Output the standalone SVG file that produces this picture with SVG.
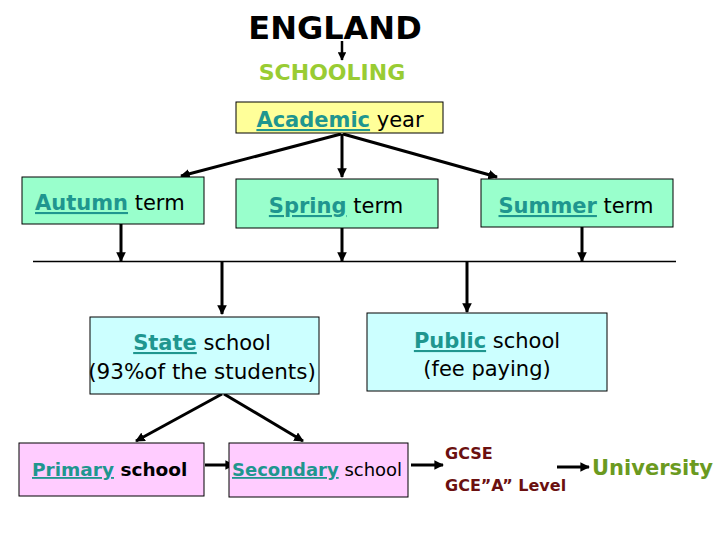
<svg xmlns="http://www.w3.org/2000/svg" width="720" height="540" viewBox="0 0 720 540">
<style>
text{font-family:"DejaVu Sans","Liberation Sans",sans-serif;}
.box{stroke:#000;stroke-width:1}
.yel{fill:#ffff99}
.mint{fill:#99ffcc}
.cyan{fill:#ccffff}
.pink{fill:#ffccff}
.lk{fill:#1f968f;font-weight:bold;text-decoration:underline}
.n{fill:#000}
.b{font-weight:bold}
.ar{stroke:#000;stroke-width:3;fill:none;marker-end:url(#ah)}
.ar2{stroke:#000;stroke-width:2.5;fill:none;marker-end:url(#ah2)}
.gce{fill:#6b1010;font-weight:bold;font-size:16px}
</style>
<defs>
<marker id="ah" viewBox="0 0 10 10" refX="9" refY="5" markerWidth="3.2" markerHeight="3.2" orient="auto" markerUnits="strokeWidth">
<path d="M0,0 L10,5 L0,10 z" fill="#000"/>
</marker>
<marker id="ah2" viewBox="0 0 10 10" refX="9" refY="5" markerWidth="3.4" markerHeight="3.4" orient="auto" markerUnits="strokeWidth">
<path d="M0,0 L10,5 L0,10 z" fill="#000"/>
</marker>
</defs>
<rect width="720" height="540" fill="#fff"/>

<g id="connectors">
<line class="ar2" x1="342" y1="41" x2="342" y2="60"/>
<line class="ar" x1="341" y1="134" x2="181" y2="176"/>
<line class="ar" x1="342" y1="134" x2="342" y2="177"/>
<line class="ar" x1="343" y1="134" x2="497" y2="177"/>
<line class="ar" x1="121" y1="224" x2="121" y2="261"/>
<line class="ar" x1="342" y1="228" x2="342" y2="261"/>
<line class="ar" x1="582" y1="227" x2="582" y2="261"/>
<line x1="33" y1="261.5" x2="676" y2="261.5" stroke="#000" stroke-width="1.5"/>
<line class="ar" x1="222" y1="262" x2="222" y2="314"/>
<line class="ar" x1="467" y1="262" x2="467" y2="312"/>
<line class="ar" x1="222" y1="394" x2="136" y2="441"/>
<line class="ar" x1="224" y1="394" x2="303" y2="441"/>
<line class="ar" x1="205" y1="465" x2="234" y2="465"/>
<line class="ar" x1="411" y1="465" x2="443" y2="465"/>
<line class="ar" x1="557" y1="467" x2="589" y2="467"/>
</g>

<g id="england">
<text x="335" y="39" font-size="32" font-weight="bold" text-anchor="middle" fill="#000">ENGLAND</text>
</g>
<g id="schooling">
<text x="332" y="80" font-size="22" font-weight="bold" text-anchor="middle" fill="#99cc33">SCHOOLING</text>
</g>
<g id="academic">
<rect class="box yel" x="236" y="102" width="207" height="31"/>
<text x="340" y="127" font-size="21" text-anchor="middle"><tspan class="lk">Academic</tspan><tspan class="n"> year</tspan></text>
</g>
<g id="autumn">
<rect class="box mint" x="22" y="177" width="182" height="47"/>
<text x="35" y="210" font-size="21"><tspan class="lk">Autumn</tspan><tspan class="n"> term</tspan></text>
</g>
<g id="spring">
<rect class="box mint" x="236" y="179" width="202" height="49"/>
<text x="336" y="213" font-size="21" text-anchor="middle"><tspan class="lk">Spring</tspan><tspan class="n"> term</tspan></text>
</g>
<g id="summer">
<rect class="box mint" x="481" y="179" width="192" height="48"/>
<text x="576" y="213" font-size="21" text-anchor="middle"><tspan class="lk">Summer</tspan><tspan class="n"> term</tspan></text>
</g>
<g id="state">
<rect class="box cyan" x="90" y="317" width="229" height="77"/>
<text x="202" y="350" font-size="21" text-anchor="middle"><tspan class="lk">State</tspan><tspan class="n"> school</tspan></text>
<text x="202" y="379" font-size="21.5" text-anchor="middle" fill="#000">(93%of the students)</text>
</g>
<g id="public">
<rect class="box cyan" x="367" y="313" width="240" height="78"/>
<text x="487" y="348" font-size="21" text-anchor="middle"><tspan class="lk">Public</tspan><tspan class="n"> school</tspan></text>
<text x="487" y="376" font-size="21" text-anchor="middle" fill="#000">(fee paying)</text>
</g>
<g id="primary">
<rect class="box pink" x="19" y="443" width="185" height="53"/>
<text x="32" y="476" font-size="18.5"><tspan class="lk">Primary</tspan><tspan class="n b"> school</tspan></text>
</g>
<g id="secondary">
<rect class="box pink" x="229" y="443" width="179" height="54"/>
<text x="232" y="476" font-size="18"><tspan class="lk">Secondary</tspan><tspan class="n"> school</tspan></text>
</g>
<g id="gcse">
<text class="gce" x="445" y="459">GCSE</text>
<text class="gce" x="445" y="491">GCE”A” Level</text>
</g>
<g id="university">
<text x="592" y="475" font-size="21" font-weight="bold" fill="#6b9a1f">University</text>
</g>
</svg>
